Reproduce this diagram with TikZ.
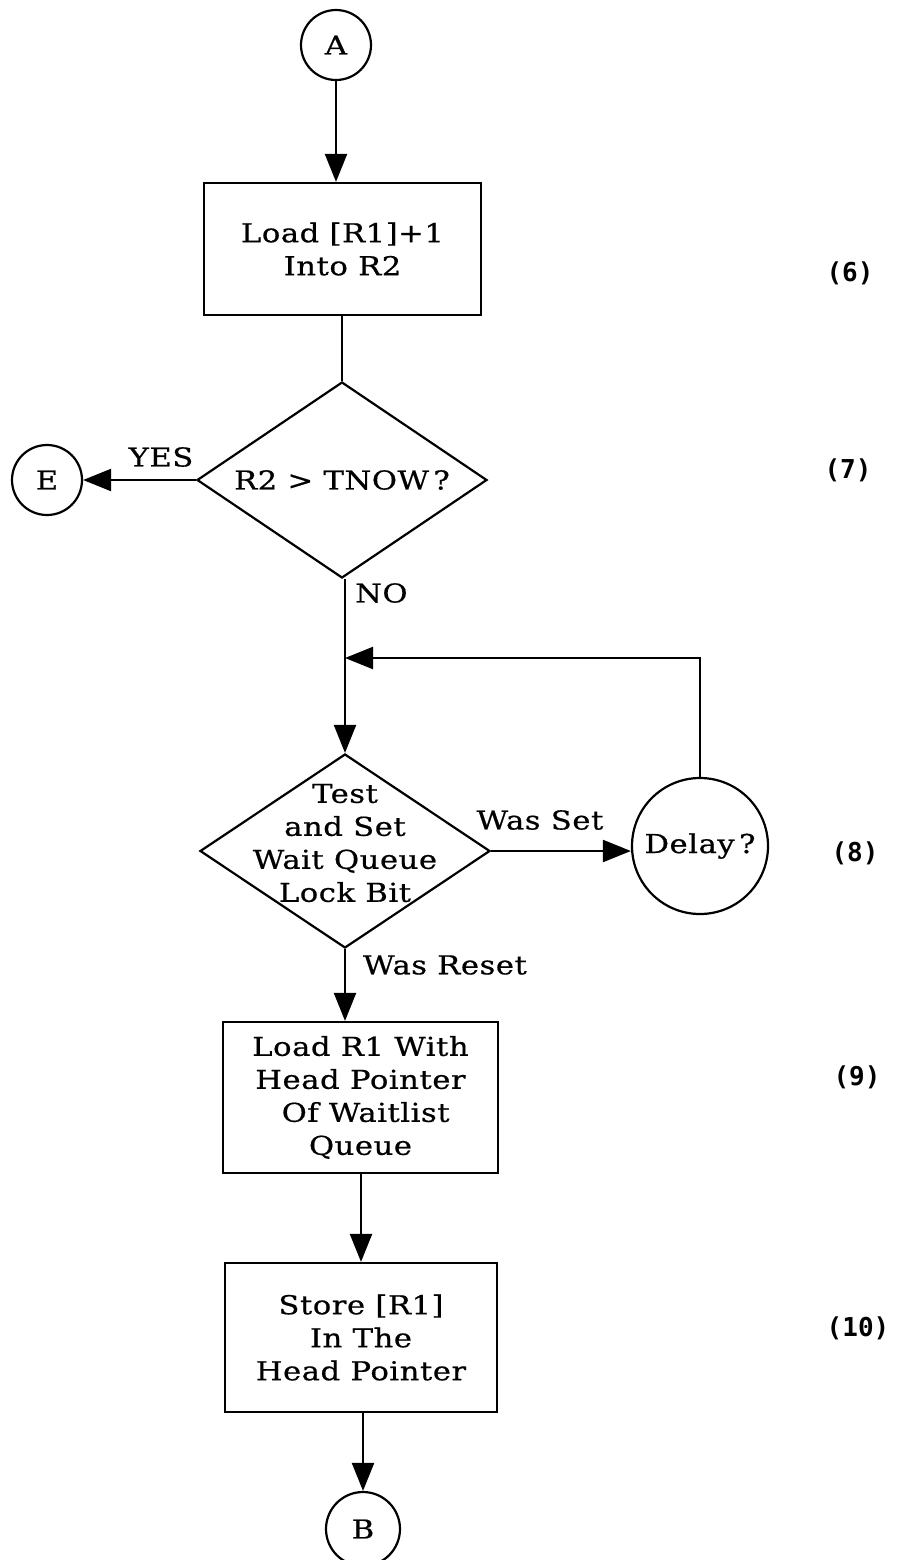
\documentclass[tikz,border=0pt]{standalone}
\usepackage{fontspec}
\setmainfont{DejaVu Serif}[FakeStretch=1.18,LetterSpace=2,FakeBold=0.6]
\newfontfamily\numfont{DejaVu Sans Mono}
\usetikzlibrary{arrows.meta,shapes.geometric}
\begin{document}
\begin{tikzpicture}[x=0.5pt,y=-0.5pt,line width=1.1pt,
  every node/.style={font=\fontsize{13}{16.5}\selectfont},
  box/.style={draw,rectangle,inner sep=0pt,align=center},
  dia/.style={draw,diamond,inner sep=0pt,aspect=1.5},
  conn/.style={draw,circle,inner sep=0pt,minimum size=35pt},
  arr/.style={-{Triangle[length=14pt,width=11pt]}},
  lbl/.style={inner sep=1pt},
  num/.style={font=\numfont\bfseries\fontsize{13}{15}\selectfont}]
\useasboundingbox (0,0) rectangle (910,1560);
% nodes
\node[conn] (A) at (336,45) {A};
\node[box,minimum width=138.5pt,minimum height=66pt] (b1) at (342.5,249) {Load [R1]+1\\Into R2};
\node[dia,minimum width=145pt,minimum height=98pt] (d1) at (342,480) {R2 > TNOW\,?};
\node[conn] (E) at (47,480) {E};
\node[dia,minimum width=145pt,minimum height=97pt] (d2) at (345,851) {};
\node[align=center,inner sep=0pt] (d2t) at (345,843) {Test\\and Set\\Wait Queue\\Lock Bit};
\node[draw,circle,inner sep=0pt,minimum size=68pt] (dl) at (700,846) {Delay\,?};
\coordinate (j) at (345,658);
\node[box,minimum width=137.5pt,minimum height=75.5pt] (b2) at (360.5,1097.5) {Load R1 With\\Head Pointer\\\ Of Waitlist\\Queue};
\node[box,minimum width=136pt,minimum height=74.5pt] (b3) at (361,1337.5) {Store [R1]\\In The\\Head Pointer};
\node[conn,minimum size=37pt] (B) at (363,1529) {B};
% labels
\node[lbl] (yes) at (161,457) {YES};
\node[lbl,anchor=west] (no) at (352,593) {NO};
\node[lbl] (wset) at (540,820) {Was Set};
\node[lbl,anchor=west] (wreset) at (360,965) {Was Reset};
\node[num] (n6) at (850,273) {(6)};
\node[num] (n7) at (848,470) {(7)};
\node[num] (n8) at (855,853) {(8)};
\node[num] (n9) at (857,1077) {(9)};
\node[num] (n10) at (858,1328) {(10)};
% connectors
\draw[arr] (A.south) -- (A.south |- b1.north);
\draw (b1.south -| d1.north) -- (d1.north);
\draw[arr] (d1.west) -- (E.east);
\draw[arr] (d1.south -| d2.north) -- (d2.north);
\draw[arr] (dl.north) |- (j);
\draw[arr] (d2.east) -- (d2.east -| dl.west);
\draw[arr] (d2.south) -- (d2.south |- b2.north);
\draw[arr] (b3.north |- b2.south) -- (b3.north);
\draw[arr] (b3.south -| B.north) -- (B.north);
\end{tikzpicture}
\end{document}
